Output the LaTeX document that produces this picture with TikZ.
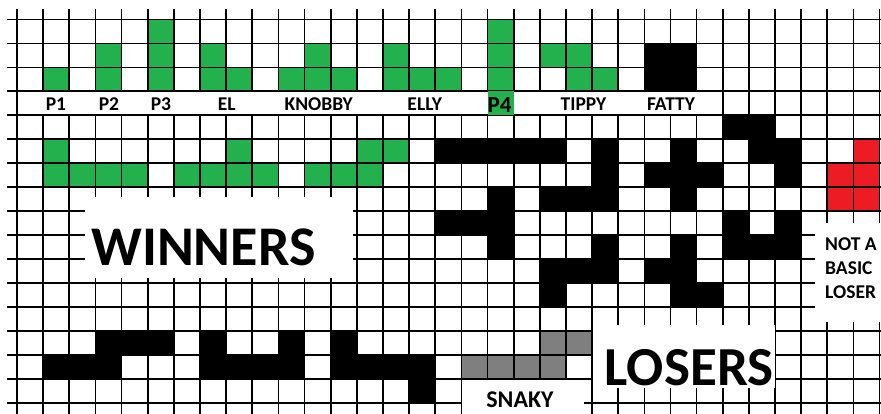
\documentclass[tikz,border=0pt]{standalone}
\usepackage{fontspec}
\setmainfont{Carlito}
\definecolor{grn}{HTML}{22B14C}
\definecolor{rd}{HTML}{ED1C24}
\definecolor{gry}{HTML}{7F7F7F}
\newcommand{\cx}[1]{17+26.14*(#1)}
\newcommand{\cy}[1]{19.5+23.95*(#1)}
\newcommand{\cellfill}[3]{\fill[#1] ({\cx{#2}},{\cy{#3}}) rectangle ({\cx{#2+1}},{\cy{#3+1}});}
\tikzset{
  gridline/.style={line width=1.7pt, black},
  blank/.style={fill=white},
  lbl/.style={font=\fontsize{19.5}{19.5}\selectfont\bfseries, inner sep=0pt, anchor=base},
  big/.style={font=\fontsize{56}{56}\selectfont\bfseries, inner sep=0pt, anchor=base},
}
\begin{document}
\begin{tikzpicture}[x=1pt,y=-1pt]
\useasboundingbox (0,0) rectangle (881,414);
\fill[white] (0,0) rectangle (881,414);
% green winners
\foreach \c/\r in {1/2, 3/1,3/2, 5/0,5/1,5/2, 7/1,7/2,8/2, 10/2,11/1,11/2,12/2,
  14/1,14/2,15/2,16/2, 18/0,18/1,18/2, 20/1,21/1,21/2,22/2,
  1/5,1/6,2/6,3/6,4/6, 8/5,6/6,7/6,8/6,9/6, 13/5,14/5,11/6,12/6,13/6}
  {\cellfill{grn}{\c}{\r}}
% black losers
\foreach \c/\r in {24/1,25/1,24/2,25/2,
  16/5,17/5,18/5,19/5,20/5,
  22/5,22/6,22/7,20/7,21/7,
  18/7,16/8,17/8,18/8,18/9,
  22/9,20/10,21/10,22/10,20/11,
  25/5,24/6,25/6,26/6,25/7,
  25/9,24/10,25/10,25/11,26/11,
  27/4,28/4,28/5,29/5,29/6,
  27/8,29/8,27/9,28/9,29/9,
  1/14,2/14,3/14,3/13,4/13,5/13,
  7/13,10/13,7/14,8/14,9/14,10/14,
  12/13,12/14,13/14,14/14,15/14,15/15}
  {\cellfill{black}{\c}{\r}}
% red
\foreach \c/\r in {32/5,31/6,32/6,31/7,32/7} {\cellfill{rd}{\c}{\r}}
% gray snaky
\foreach \c/\r in {17/14,18/14,19/14,20/14,20/13,21/13} {\cellfill{gry}{\c}{\r}}
% grid
\foreach \i in {0,...,33} {\draw[gridline] ({\cx{\i}},9.5) -- ({\cx{\i}},414);}
\foreach \j in {0,...,16} {\draw[gridline] (7,{\cy{\j}}) -- (881,{\cy{\j}});}
% white label areas
\fill[blank] ({\cx{0}+0.9},{\cy{3}+0.9}) rectangle ({\cx{27}-0.9},{\cy{4}-0.9});
\cellfill{grn}{18}{3}
\fill[blank] (85,197) rectangle (353,278);
\fill[blank] ({\cx{22}+0.9},325) rectangle (775,388);
\fill[blank] (815,223) rectangle (881,322);
\fill[blank] ({\cx{17}+0.9},{\cy{15}+0.9}) rectangle (584,414);
% labels
\node[lbl] (p1) at (56,110.7) {P1};
\node[lbl] (p2) at (109,110.7) {P2};
\node[lbl] (p3) at (161,110.7) {P3};
\node[lbl] (el) at (226.7,110.7) {EL};
\node[lbl] (knobby) at (318.7,110.7) {KNOBBY};
\node[lbl] (elly) at (424.7,110.7) {ELLY};
\node[lbl, font=\fontsize{23}{23}\selectfont\bfseries] (p4) at (499.5,113) {P4};
\node[lbl] (tippy) at (583.5,110.7) {TIPPY};
\node[lbl] (fatty) at (671,110.7) {FATTY};
\node[big] (winners) at (203.5,265.7) {WINNERS};
\node[big, font=\fontsize{55}{55}\selectfont\bfseries] (losers) at (689,385) {LOSERS};
\node[lbl, font=\fontsize{24}{24}\selectfont\bfseries] (snaky) at (520,407.5) {SNAKY};
\node[lbl, anchor=base west, align=left, font=\fontsize{19.5}{24}\selectfont\bfseries] (notbasic) at (825,298.5) {NOT A\\BASIC\\LOSER};
\end{tikzpicture}
\end{document}
